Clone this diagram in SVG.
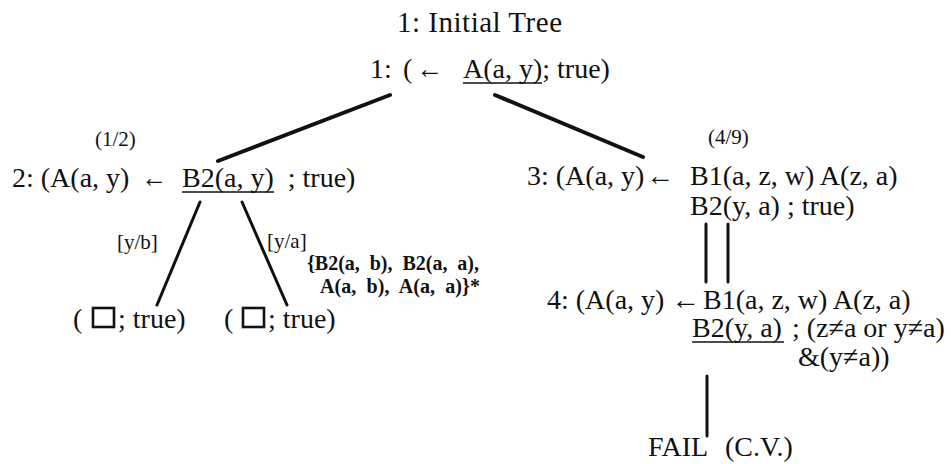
<svg xmlns="http://www.w3.org/2000/svg" width="951" height="464" viewBox="0 0 951 464">
<style>
.t{font-family:"Liberation Serif","Times New Roman",serif;font-size:28px;fill:#111}
.s{font-family:"Liberation Serif","Times New Roman",serif;font-size:21px;fill:#111}
.b{font-family:"Liberation Serif","Times New Roman",serif;font-size:20px;font-weight:bold;fill:#111}
.u{stroke:#111;stroke-width:1.6}
.e{stroke:#111;stroke-linecap:round;fill:none}
.box{fill:none;stroke:#111;stroke-width:2.6}
</style>
<rect width="951" height="464" fill="#fff"/>
<text class="t" x="397" y="32" style="font-size:29px" textLength="165">1: Initial Tree</text>
<g id="connectors">
<line class="e" x1="390" y1="95" x2="218" y2="161" stroke-width="4"/>
<line class="e" x1="495" y1="95" x2="643" y2="157" stroke-width="4"/>
<line class="e" x1="200" y1="202" x2="157" y2="305" stroke-width="3"/>
<line class="e" x1="242" y1="202" x2="287" y2="305" stroke-width="3"/>
<line class="e" x1="706" y1="224" x2="706" y2="282" stroke-width="3"/>
<line class="e" x1="728" y1="224" x2="728" y2="282" stroke-width="3"/>
<line class="e" x1="707" y1="376" x2="707" y2="436" stroke-width="3"/>
<text class="s" x="117" y="249">[y/b]</text>
<text class="s" x="267" y="248">[y/a]</text>
</g>
<g id="node1">
<text class="t" x="370" y="78">1:</text>
<text class="t" x="403" y="78">(</text>
<text class="t" x="416" y="78" textLength="27" lengthAdjust="spacingAndGlyphs">←</text>
<text class="t" x="463" y="78">A(a, y); true)</text>
<line class="u" x1="463" y1="83" x2="542" y2="83"/>
</g>
<g id="node2">
<text class="s" x="95" y="146">(1/2)</text>
<text class="t" x="12" y="187">2: (A(a, y)</text>
<text class="t" x="141" y="187" textLength="26" lengthAdjust="spacingAndGlyphs">←</text>
<text class="t" x="182" y="187" xml:space="preserve">B2(a, y)  ; true)</text>
<line class="u" x1="182" y1="192" x2="274" y2="192"/>
</g>
<g id="node3">
<text class="s" x="708" y="144">(4/9)</text>
<text class="t" x="527" y="185">3: (A(a, y)</text>
<text class="t" x="646" y="185" textLength="28" lengthAdjust="spacingAndGlyphs">←</text>
<text class="t" x="690" y="185">B1(a, z, w) A(z, a)</text>
<text class="t" x="690" y="215">B2(y, a) ; true)</text>
</g>
<g id="leaf1">
<text class="t" x="73" y="328">(</text>
<rect class="box" x="93" y="308" width="21" height="19"/>
<text class="t" x="118" y="328">; true)</text>
</g>
<g id="leaf2">
<text class="t" x="224" y="328">(</text>
<rect class="box" x="243" y="308" width="21" height="19"/>
<text class="t" x="268" y="328">; true)</text>
</g>
<g id="subsumed">
<text class="b" x="307" y="270" xml:space="preserve" textLength="172">{B2(a,  b),  B2(a,  a),</text>
<text class="b" x="320" y="293" xml:space="preserve" textLength="160">A(a,  b),  A(a,  a)}*</text>
</g>
<g id="node4">
<text class="t" x="547" y="309">4: (A(a, y)</text>
<text class="t" x="671" y="309" textLength="29" lengthAdjust="spacingAndGlyphs">←</text>
<text class="t" x="703" y="309">B1(a, z, w) A(z, a)</text>
<text class="t" x="692" y="337">B2(y, a)</text>
<line class="u" x1="692" y1="342" x2="784" y2="342"/>
<text class="t" x="792" y="337">; (z≠a or y≠a)</text>
<text class="t" x="798" y="366">&amp;(y≠a))</text>
</g>
<g id="fail">
<text class="t" x="648" y="456">FAIL</text>
<text class="t" x="725" y="456">(C.V.)</text>
</g>
</svg>
